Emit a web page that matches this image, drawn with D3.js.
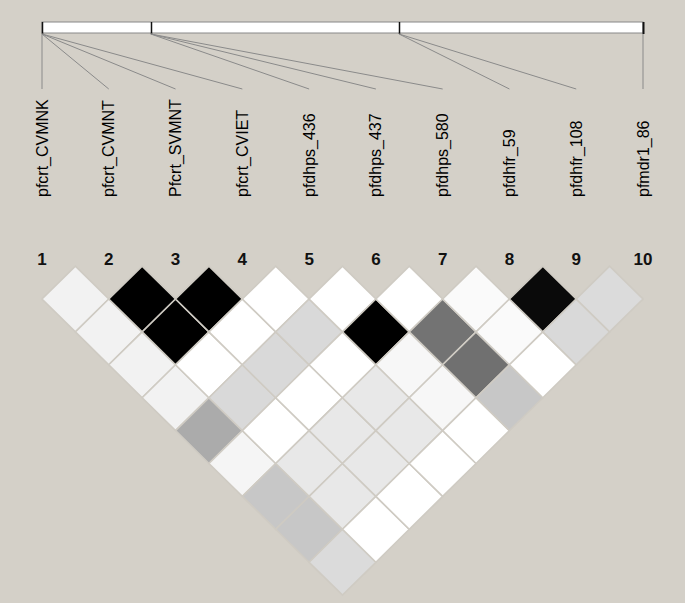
<!DOCTYPE html>
<html>
<head>
<meta charset="utf-8">
<script src="https://cdn.jsdelivr.net/npm/d3@7"></script>
<style>
  body { margin: 0; background: #d4d0c8; }
  svg { display: block; }
</style>
</head>
<body>
<div id="chart"></div>
<script>
const width = 685;
const height = 603;

// SNP markers (in order along the plot)
const snpNames = ["pfcrt_CVMNK", "pfcrt_CVMNT", "Pfcrt_SVMNT", "pfcrt_CVIET", "pfdhps_436",
                  "pfdhps_437", "pfdhps_580", "pfdhfr_59", "pfdhfr_108", "pfmdr1_86"];
const snpNumbers = ["1", "2", "3", "4", "5", "6", "7", "8", "9", "10"];

// relative position of each marker on the top bar (0..1)
const snpPositions = [0, 0, 0, 0, 0.181, 0.181, 0.181, 0.594, 0.594, 1];
// segment boundaries drawn inside the bar
const barBreaks = [0, 0.181, 0.594, 1];

// r² (x100) for every pair, row i holds pairs (i, i+1), (i, i+2) ...
const ldRows = [
  [5, 5, 5, 5, 33, 4, 22, 22, 14],
  [100, 100, 0, 15, 0, 9, 9, 0],
  [100, 0, 15, 0, 9, 9, 0],
  [0, 15, 0, 9, 9, 0],
  [0, 100, 3, 3, 0],
  [0, 55, 56, 22],
  [2, 2, 0],
  [96, 15],
  [14]
];

const bg = "#d4d0c8";

const svg = d3.select("#chart").append("svg")
    .attr("width", width)
    .attr("height", height)
    .style("background", bg);

// marker x positions
const x = d3.scalePoint()
    .domain(d3.range(snpNames.length))
    .range([42, 643]);

// bar position scale
const barX = d3.scaleLinear().domain([0, 1]).range([42, 643]);

const color = d3.scaleLinear().domain([0, 100]).range(["#ffffff", "#000000"]);

const barTop = 22, barBottom = 33, lineEnd = 89;

// top bar
svg.append("rect")
    .attr("x", barX(0))
    .attr("y", barTop)
    .attr("width", barX(1) - barX(0))
    .attr("height", barBottom - barTop)
    .attr("fill", "#fff")
    .attr("stroke", "#888")
    .attr("stroke-width", 1);

svg.append("g").selectAll("line")
    .data(barBreaks)
    .join("line")
    .attr("x1", d => Math.round(barX(d)) + 0.5)
    .attr("x2", d => Math.round(barX(d)) + 0.5)
    .attr("y1", barTop)
    .attr("y2", barBottom + 1)
    .attr("stroke", "#111")
    .attr("stroke-width", d => d === 1 ? 2 : 1.5);

// connector lines from physical position to marker
svg.append("g").selectAll("line")
    .data(snpPositions)
    .join("line")
    .attr("x1", d => barX(d))
    .attr("y1", barBottom + 1)
    .attr("x2", (d, i) => x(i))
    .attr("y2", lineEnd)
    .attr("stroke", "#8a8a8a")
    .attr("stroke-width", 1);

// marker names
svg.append("g").selectAll("text")
    .data(snpNames)
    .join("text")
    .attr("transform", (d, i) => `translate(${x(i) + 5.5},197) rotate(-90)`)
    .attr("text-anchor", "start")
    .attr("font-family", "'Liberation Sans', Arial, sans-serif")
    .attr("font-size", 16)
    .attr("fill", "#000")
    .text(d => d);

// marker numbers
svg.append("g").selectAll("text")
    .data(snpNumbers)
    .join("text")
    .attr("x", (d, i) => x(i))
    .attr("y", 265)
    .attr("text-anchor", "middle")
    .attr("font-family", "'Liberation Sans', Arial, sans-serif")
    .attr("font-weight", "bold")
    .attr("font-size", 17)
    .attr("fill", "#111")
    .text(d => d);

// LD diamonds
const cells = [];
ldRows.forEach((row, i) => {
    row.forEach((v, k) => {
        cells.push({i: i, j: i + k + 1, value: v});
    });
});

const hx = (x(1) - x(0)) / 2;  // half diagonal, horizontal
const hy = 32.9;                 // half diagonal, vertical
const rowTop = 299;

svg.append("g").selectAll("path")
    .data(cells)
    .join("path")
    .attr("d", d => {
        const cx = (x(d.i) + x(d.j)) / 2;
        const cy = rowTop + (d.j - d.i - 1) * hy;
        return `M${cx},${cy - hy}L${cx + hx},${cy}L${cx},${cy + hy}L${cx - hx},${cy}Z`;
    })
    .attr("fill", d => color(d.value))
    .attr("stroke", "#cfcbc3")
    .attr("stroke-width", 1.6);
</script>
</body>
</html>
